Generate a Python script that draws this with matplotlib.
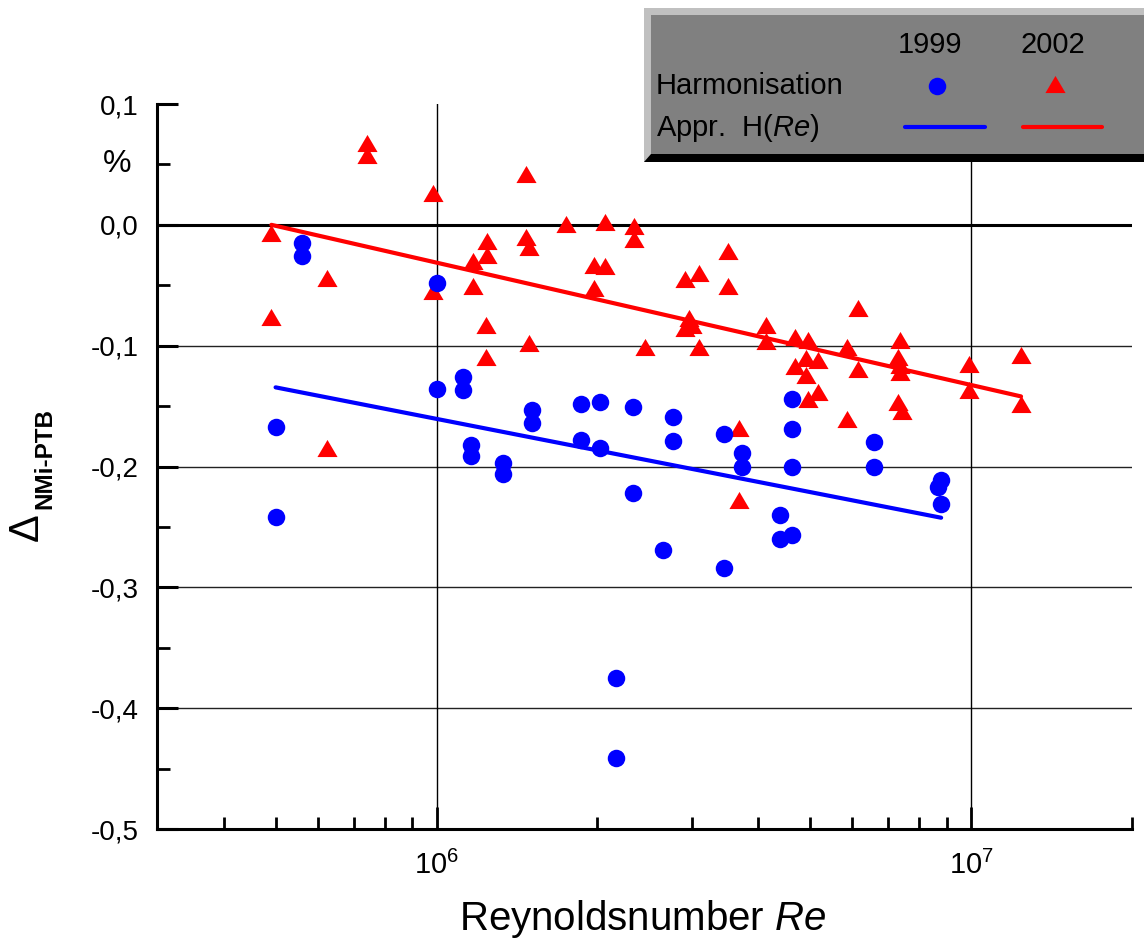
import numpy as np
import matplotlib
matplotlib.use('Agg')
import matplotlib.pyplot as plt
from matplotlib.patches import Rectangle, Polygon
from matplotlib.lines import Line2D
from matplotlib.ticker import FixedLocator, FixedFormatter, LogLocator, FuncFormatter, NullFormatter

plt.rcParams['font.family'] = ['Liberation Sans', 'DejaVu Sans']
plt.rcParams['mathtext.fontset'] = 'custom'
plt.rcParams['mathtext.rm'] = 'Liberation Sans'
plt.rcParams['mathtext.it'] = 'Liberation Sans:italic'
plt.rcParams['mathtext.bf'] = 'Liberation Sans:bold'

# ---------------- data ----------------
re_1999 = [5.6e5, 5.6e5, 5.0e5, 5.0e5, 1.0e6, 1.0e6, 1.12e6, 1.12e6, 1.16e6, 1.16e6,
           1.33e6, 1.33e6, 1.51e6, 1.51e6, 1.86e6, 1.86e6, 2.02e6, 2.02e6, 2.33e6, 2.33e6,
           2.65e6, 2.77e6, 2.77e6, 2.17e6, 2.17e6, 3.45e6, 3.45e6, 3.72e6, 3.72e6, 4.40e6,
           4.40e6, 4.63e6, 4.63e6, 4.63e6, 4.63e6, 6.59e6, 6.59e6, 8.79e6, 8.68e6, 8.79e6]
d_1999 = [-0.015, -0.026, -0.167, -0.242, -0.048, -0.136, -0.126, -0.137, -0.182, -0.191,
          -0.197, -0.206, -0.153, -0.164, -0.148, -0.178, -0.147, -0.185, -0.151, -0.222,
          -0.269, -0.159, -0.179, -0.375, -0.441, -0.173, -0.284, -0.189, -0.200, -0.240,
          -0.260, -0.257, -0.144, -0.169, -0.200, -0.180, -0.200, -0.211, -0.217, -0.231]

re_2002 = [7.40e5, 7.40e5, 1.47e6, 9.87e5, 4.91e5, 1.245e6, 1.245e6, 1.47e6, 1.49e6, 1.17e6,
           6.23e5, 9.87e5, 1.17e6, 4.91e5, 1.24e6, 1.49e6, 1.24e6, 6.23e5, 1.75e6, 2.07e6,
           2.345e6, 2.345e6, 1.97e6, 2.07e6, 1.97e6, 3.51e6, 2.92e6, 3.10e6, 3.51e6, 2.97e6,
           2.92e6, 3.00e6, 2.46e6, 3.10e6, 3.685e6, 3.685e6, 4.14e6, 4.14e6, 4.69e6, 4.96e6,
           4.92e6, 5.18e6, 4.69e6, 4.92e6, 5.18e6, 4.96e6, 5.87e6, 6.15e6, 6.15e6, 5.87e6,
           7.37e6, 7.30e6, 7.37e6, 7.37e6, 7.30e6, 7.43e6, 9.92e6, 9.92e6, 1.24e7, 1.24e7]
d_2002 = [0.068, 0.058, 0.042, 0.026, -0.007, -0.013, -0.025, -0.010, -0.018, -0.030,
          -0.044, -0.055, -0.051, -0.076, -0.083, -0.098, -0.109, -0.185, 0.001, 0.0025,
          -0.001, -0.012, -0.033, -0.034, -0.052, -0.0215, -0.045, -0.040, -0.051, -0.077,
          -0.085, -0.083, -0.101, -0.101, -0.168, -0.228, -0.083, -0.096, -0.093, -0.095,
          -0.110, -0.112, -0.117, -0.124, -0.138, -0.144, -0.101, -0.069, -0.119, -0.161,
          -0.095, -0.109, -0.116, -0.122, -0.147, -0.154, -0.115, -0.137, -0.108, -0.148]

fit_re_1999 = [5.0e5, 8.79e6]
fit_d_1999 = [-0.1345, -0.2424]
fit_re_2002 = [4.91e5, 1.24e7]
fit_d_2002 = [0.0, -0.142]

ytick_values = [0.1, 0.0, -0.1, -0.2, -0.3, -0.4, -0.5]
ytick_labels = ['0,1', '0,0', '-0,1', '-0,2', '-0,3', '-0,4', '-0,5']
yminor_values = [0.05, -0.05, -0.15, -0.25, -0.35, -0.45]
grid_y = [-0.1, -0.2, -0.3, -0.4]
grid_x = [1e6, 1e7]

legend_years = ['1999', '2002']
legend_rows = ['Harmonisation', 'Appr.  H($\\mathit{Re}$)']

BLUE = '#0000ff'
RED = '#ff0000'

# ---------------- figure ----------------
W, H = 1144, 947
fig = plt.figure(figsize=(W / 100, H / 100), dpi=100)
fig.patch.set_facecolor('white')

def fx(px):
    return px / W

def fy(py):
    return 1 - py / H

ax = fig.add_axes([fx(157), fy(829), (1132 - 157) / W, (829 - 104) / H])
ax.set_xscale('log')
ax.set_xlim(3e5, 2e7)
ax.set_ylim(-0.5, 0.1)

for s in ['top', 'right']:
    ax.spines[s].set_visible(False)
for s in ['left', 'bottom']:
    ax.spines[s].set_linewidth(2.2)

# grid
for g in grid_y:
    ax.axhline(g, color='#222222', lw=1.0, zorder=1)
ax.axhline(0.0, color='black', lw=2.2, zorder=1)
for g in grid_x:
    ax.axvline(g, color='black', lw=1.0, zorder=1)

tri = [(0, 0.85), (-1, -0.85), (1, -0.85), (0, 0.85)]

ax.plot(fit_re_2002, fit_d_2002, color=RED, lw=3, zorder=2, solid_capstyle='round')
ax.plot(fit_re_1999, fit_d_1999, color=BLUE, lw=3, zorder=2, solid_capstyle='round')
ax.plot(re_2002, d_2002, ls='none', marker=tri, ms=14.5, color=RED, mec='none', zorder=3)
ax.plot(re_1999, d_1999, ls='none', marker='o', ms=12.6, color=BLUE, mec='none', zorder=4)

# ticks
ax.yaxis.set_major_locator(FixedLocator(ytick_values))
ax.yaxis.set_major_formatter(FixedFormatter(ytick_labels))
ax.yaxis.set_minor_locator(FixedLocator(yminor_values))
ax.yaxis.set_minor_formatter(NullFormatter())
ax.tick_params(axis='y', which='major', direction='in', length=15, width=2.2,
               labelsize=20, pad=13.5)
ax.tick_params(axis='y', which='minor', direction='in', length=9, width=2)

ax.xaxis.set_major_locator(LogLocator(base=10, numticks=10))
ax.xaxis.set_major_formatter(FuncFormatter(
    lambda v, p: r'$\mathregular{10^{%d}}$' % int(round(np.log10(v)))))
ax.xaxis.set_minor_locator(LogLocator(base=10, subs=np.arange(2, 10), numticks=20))
ax.xaxis.set_minor_formatter(NullFormatter())
ax.tick_params(axis='x', which='major', direction='in', length=16, width=2,
               labelsize=21, pad=16)
ax.tick_params(axis='x', which='minor', direction='in', length=9, width=2)

# "%" unit marker at the 0.05 position
ax.annotate('%', xy=(0, 0.05), xycoords=('axes fraction', 'data'),
            xytext=(-29, 0), textcoords='offset points',
            ha='center', va='center', fontsize=23)

# axis labels
fig.text(fx(27), fy(527), '\u0394', rotation=90, fontsize=30,
         ha='center', va='center')
fig.text(fx(45), fy(458), 'NMi-PTB', rotation=90, fontsize=17.5, fontweight='bold',
         ha='center', va='center')
fig.text(fx(643), fy(919), 'Reynoldsnumber $\\mathit{Re}$', fontsize=29,
         ha='center', va='center')

# ---------------- legend box ----------------
fig.add_artist(Rectangle((fx(644), fy(162)), (1144 - 644) / W, (162 - 8) / H,
                         transform=fig.transFigure, fc='#c0c0c0', ec='none', zorder=5))
fig.add_artist(Rectangle((fx(651), fy(154)), (1144 - 651) / W, (154 - 15) / H,
                         transform=fig.transFigure, fc='#808080', ec='none', zorder=6))
fig.add_artist(Polygon([(fx(644), fy(162)), (fx(651), fy(154)), (fx(1144), fy(154)),
                        (fx(1144), fy(162))], closed=True,
                       transform=fig.transFigure, fc='black', ec='none', zorder=6))

fig.text(fx(930), fy(45), legend_years[0], fontsize=21, ha='center', va='center', zorder=7)
fig.text(fx(1053), fy(45), legend_years[1], fontsize=21, ha='center', va='center', zorder=7)
fig.text(fx(656), fy(86), legend_rows[0], fontsize=21, ha='left', va='center', zorder=7)
fig.text(fx(656), fy(128), legend_rows[1], fontsize=21, ha='left', va='center', zorder=7)

fig.add_artist(Line2D([fx(937)], [fy(86)], marker='o', ms=12.6, color=BLUE, mec='none',
                      ls='none', transform=fig.transFigure, zorder=8))
fig.add_artist(Line2D([fx(1055)], [fy(84)], marker=tri, ms=14.5, color=RED, mec='none',
                      ls='none', transform=fig.transFigure, zorder=8))
fig.add_artist(Line2D([fx(905), fx(985)], [fy(127), fy(127)], color=BLUE, lw=3,
                      solid_capstyle='round', transform=fig.transFigure, zorder=8))
fig.add_artist(Line2D([fx(1023), fx(1102)], [fy(127), fy(127)], color=RED, lw=3,
                      solid_capstyle='round', transform=fig.transFigure, zorder=8))

fig.savefig('out.png', dpi=100)
